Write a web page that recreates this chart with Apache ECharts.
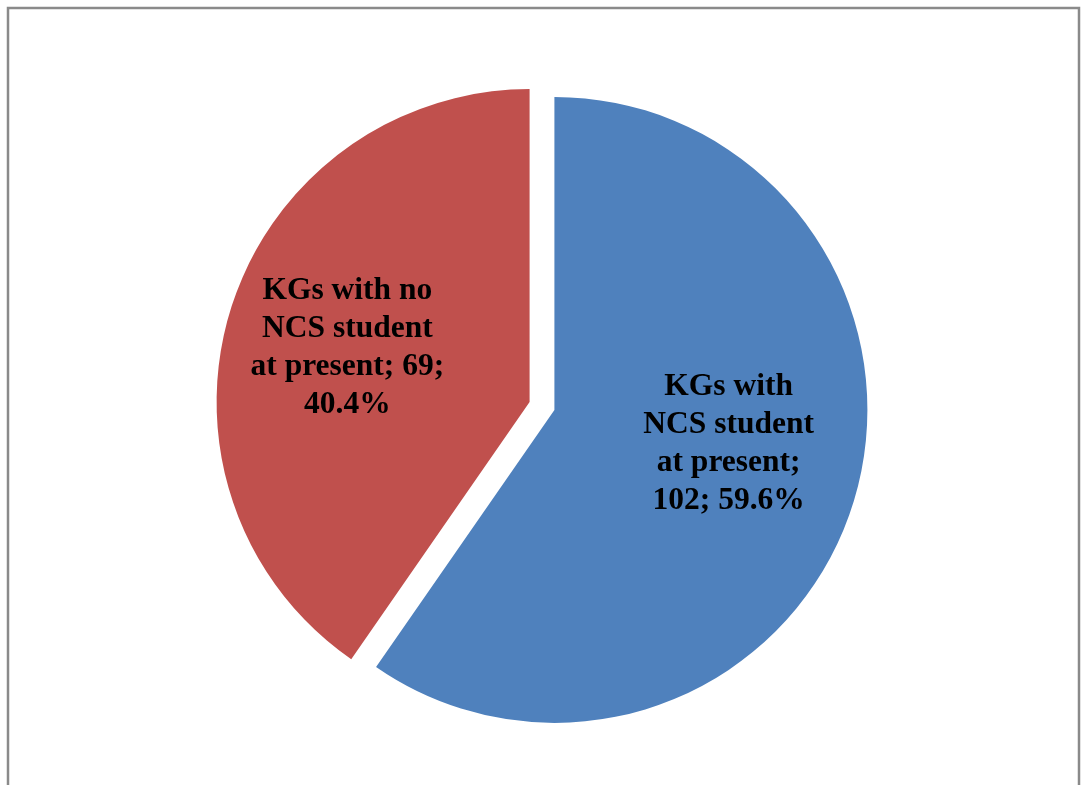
<!DOCTYPE html>
<html>
<head>
<meta charset="utf-8">
<script src="https://cdn.jsdelivr.net/npm/echarts@6/dist/echarts.min.js"></script>
<style>
html,body{margin:0;padding:0;background:#fff;}
#chart{width:1084px;height:785px;}
</style>
</head>
<body>
<div id="chart"></div>
<script>
const categories = ['KGs with NCS student at present', 'KGs with no NCS student at present'];
const values = [102, 69];
const colors = ['#4F81BD', '#C0504D'];

const chart = echarts.init(document.getElementById('chart'));

function wrapName(name) {
  return name.replace(' NCS', '\nNCS').replace(' at', '\nat');
}

chart.setOption({
  animation: false,
  backgroundColor: '#ffffff',
  graphic: [{
    type: 'rect',
    shape: { x: 8, y: 8, width: 1071, height: 800 },
    style: { fill: 'none', stroke: '#8a8a8a', lineWidth: 2.5 },
    silent: true
  }],
  series: [{
    type: 'pie',
    center: [542, 406],
    radius: 313,
    startAngle: 90,
    clockwise: true,
    selectedMode: 'multiple',
    selectedOffset: 13,
    percentPrecision: 1,
    avoidLabelOverlap: false,
    emphasis: { disabled: true },
    label: {
      position: 'inside',
      color: '#000',
      fontFamily: 'Liberation Serif',
      fontWeight: 'bold',
      fontSize: 31.5,
      lineHeight: 38,
      align: 'center',
      formatter: function (p) {
        const n = wrapName(p.name);
        const pct = p.percent.toFixed(1) + '%';
        if (p.dataIndex === 0) return n + ';\n' + p.value + '; ' + pct;
        return n + '; ' + p.value + ';\n' + pct;
      }
    },
    labelLayout: function (p) {
      return p.dataIndex === 0 ? { dx: 22, dy: -14 } : { dx: -30, dy: -7 };
    },
    labelLine: { show: false },
    data: categories.map((c, i) => ({
      name: c,
      value: values[i],
      selected: true,
      itemStyle: { color: colors[i] }
    }))
  }]
});
</script>
</body>
</html>
